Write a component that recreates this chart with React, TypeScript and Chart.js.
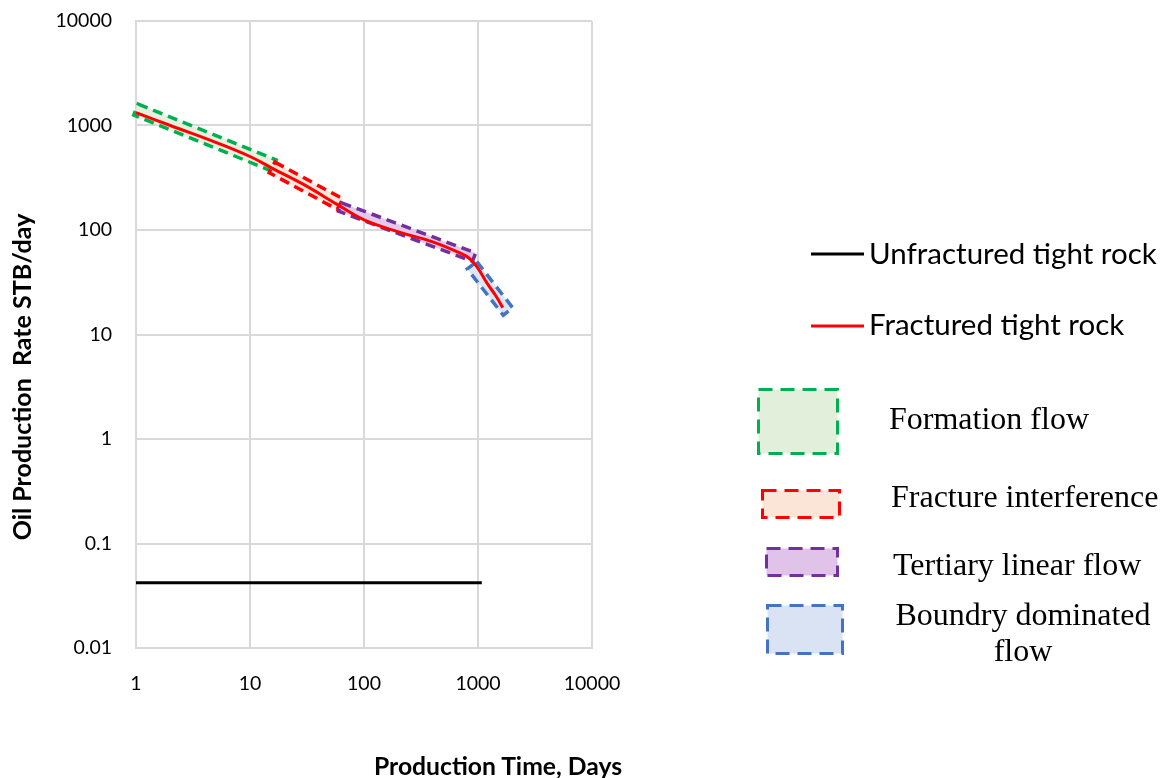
import React, { useEffect, useRef } from "react";
import { Chart, registerables } from "chart.js";

Chart.register(...registerables);

// ---------- data ----------
const fracturedDays = [1, 2, 5, 10, 16, 30, 60, 100, 200, 400, 700, 850, 1000, 1200, 1450, 1650];
const fracturedRate = [1330, 1000, 690, 505, 385, 270, 172, 125, 96, 77, 60, 53, 43, 31, 23, 18];

const unfracturedDays = [1, 1080];
const unfracturedRate = [0.042, 0.042];

const regimeNames = ["Formation flow", "Fracture interference", "Tertiary linear flow", "Boundry dominated flow"];
const regimeStartDay = [1, 15.6, 61.6, 886];
const regimeEndDay = [16.2, 61.6, 923, 1833];
const regimeStartRate = [1420, 397, 166, 46];
const regimeEndRate = [415, 177, 55, 16.6];

const xTickValues = [1, 10, 100, 1000, 10000];
const xTickLabels = ["1", "10", "100", "1000", "10000"];
const yTickValues = [0.01, 0.1, 1, 10, 100, 1000, 10000];
const yTickLabels = ["0.01", "0.1", "1", "10", "100", "1000", "10000"];

// ---------- styles ----------
const regimeStroke = ["#00b050", "#ff0000", "#7030a0", "#4472c4"];
const regimeFill = ["rgba(226,239,218,0.9)", "rgba(251,229,214,0.9)", "rgba(225,195,233,0.9)", "rgba(218,227,243,0.9)"];
const regimeBandWidth = [12, 12, 9, 12];
const sansFont = "Lato, 'Open Sans', sans-serif";
const serifFont = "'Liberation Serif', 'DejaVu Serif', serif";

const regimeBandsPlugin = {
  id: "regimeBands",
  beforeDatasetsDraw(chart: any) {
    const { ctx } = chart;
    const xs = chart.scales.x;
    const ys = chart.scales.y;
    regimeNames.forEach((_, i) => {
      const x1 = xs.getPixelForValue(regimeStartDay[i]);
      const y1 = ys.getPixelForValue(regimeStartRate[i]);
      const x2 = xs.getPixelForValue(regimeEndDay[i]);
      const y2 = ys.getPixelForValue(regimeEndRate[i]);
      const len = Math.hypot(x2 - x1, y2 - y1);
      const ang = Math.atan2(y2 - y1, x2 - x1);
      const w = regimeBandWidth[i];
      ctx.save();
      ctx.translate(x1, y1);
      ctx.rotate(ang);
      ctx.beginPath();
      ctx.rect(0, -w / 2, len, w);
      ctx.fillStyle = regimeFill[i];
      ctx.fill();
      ctx.setLineDash([10, 6]);
      ctx.lineWidth = 3.5;
      ctx.strokeStyle = regimeStroke[i];
      ctx.stroke();
      ctx.restore();
    });
  },
};

export default function App() {
  const canvasRef = useRef<HTMLCanvasElement | null>(null);

  useEffect(() => {
    if (!canvasRef.current) return;
    const chart = new Chart(canvasRef.current, {
      type: "scatter",
      data: {
        datasets: [
          {
            label: "Unfractured tight rock",
            data: unfracturedDays.map((x, i) => ({ x, y: unfracturedRate[i] })),
            showLine: true,
            borderColor: "#000000",
            borderWidth: 3,
            pointRadius: 0,
          },
          {
            label: "Fractured tight rock",
            data: fracturedDays.map((x, i) => ({ x, y: fracturedRate[i] })),
            showLine: true,
            borderColor: "#ff0000",
            borderWidth: 3,
            pointRadius: 0,
            tension: 0.4,
          },
        ],
      },
      options: {
        animation: false,
        responsive: false,
        maintainAspectRatio: false,
        layout: { padding: { left: 0, top: 21, right: 581, bottom: 0 } },
        plugins: { legend: { display: false }, tooltip: { enabled: false } },
        scales: {
          x: {
            type: "logarithmic",
            min: 1,
            max: 10000,
            afterBuildTicks: (s: any) => {
              s.ticks = xTickValues.map((v) => ({ value: v }));
            },
            afterFit: (s: any) => {
              s.height = 130;
              s.paddingLeft = 0;
              s.paddingRight = 0;
              s.paddingTop = 0;
              s.paddingBottom = 0;
            },
            ticks: {
              autoSkip: false,
              maxRotation: 0,
              padding: 24,
              color: "#000",
              font: { family: sansFont, size: 19.5 },
              callback: (v: any) => xTickLabels[xTickValues.indexOf(Number(v))] ?? "",
            },
            grid: { color: "#d9d9d9", lineWidth: 2, drawTicks: false },
            border: { color: "#d9d9d9", width: 2 },
          },
          y: {
            type: "logarithmic",
            min: 0.01,
            max: 10000,
            afterBuildTicks: (s: any) => {
              s.ticks = yTickValues.map((v) => ({ value: v }));
            },
            afterFit: (s: any) => {
              s.width = 136;
              s.paddingLeft = 0;
              s.paddingRight = 0;
              s.paddingTop = 0;
              s.paddingBottom = 0;
            },
            ticks: {
              autoSkip: false,
              padding: 24,
              color: "#000",
              font: { family: sansFont, size: 19.5 },
              callback: (v: any) => {
                const idx = yTickValues.findIndex((t) => Math.abs(t - Number(v)) / t < 1e-6);
                return idx >= 0 ? yTickLabels[idx] : "";
              },
            },
            grid: { color: "#d9d9d9", lineWidth: 2, drawTicks: false },
            border: { color: "#d9d9d9", width: 2 },
          },
        },
      },
      plugins: [regimeBandsPlugin],
    } as any);
    return () => chart.destroy();
  }, []);

  return (
    <div style={{ position: "fixed", left: 0, top: 0, width: 1173, height: 778, background: "#fff" }}>
      <canvas ref={canvasRef} width={1173} height={778} style={{ position: "absolute", left: 0, top: 0, width: 1173, height: 778 }} />
      <svg width={1173} height={778} style={{ position: "absolute", left: 0, top: 0, pointerEvents: "none" }}>
        {/* axis titles */}
        <text x={498} y={775} textAnchor="middle" fontFamily={sansFont} fontWeight="bold" fontSize={24.7} fill="#000">
          Production Time, Days
        </text>
        <text transform="translate(31,377) rotate(-90)" textAnchor="middle" fontFamily={sansFont} fontWeight="bold" fontSize={25} fill="#000" style={{ whiteSpace: "pre" }}>
          {"Oil Production  Rate STB/day"}
        </text>

        {/* legend: lines */}
        <line x1={811} x2={864} y1={254} y2={254} stroke="#000" strokeWidth={3} />
        <text x={869} y={264} fontFamily={sansFont} fontSize={29.5} fill="#000">Unfractured tight rock</text>
        <line x1={811} x2={864} y1={326} y2={326} stroke="#ff0000" strokeWidth={3} />
        <text x={869} y={335} fontFamily={sansFont} fontSize={29.5} fill="#000">Fractured tight rock</text>

        {/* legend: flow regimes */}
        <rect x={758.5} y={389.5} width={79} height={64} fill="#e2efda" stroke={regimeStroke[0]} strokeWidth={3} strokeDasharray="14 8" />
        <text x={889} y={429} fontFamily={serifFont} fontSize={32} fill="#000">{regimeNames[0]}</text>

        <rect x={762.5} y={490.5} width={77} height={27} fill="#fbe5d6" stroke={regimeStroke[1]} strokeWidth={3} strokeDasharray="14 8" />
        <text x={891} y={507} fontFamily={serifFont} fontSize={32} fill="#000">{regimeNames[1]}</text>

        <rect x={766.5} y={548.5} width={71} height={27} fill="#e1c3e9" stroke={regimeStroke[2]} strokeWidth={3} strokeDasharray="14 8" />
        <text x={893} y={575} fontFamily={serifFont} fontSize={32} fill="#000">{regimeNames[2]}</text>

        <rect x={767.5} y={605.5} width={75} height={48} fill="#dae3f3" stroke={regimeStroke[3]} strokeWidth={3} strokeDasharray="14 8" />
        <text x={1023} y={625} textAnchor="middle" fontFamily={serifFont} fontSize={32} fill="#000">Boundry dominated</text>
        <text x={1023} y={661} textAnchor="middle" fontFamily={serifFont} fontSize={32} fill="#000">flow</text>
      </svg>
    </div>
  );
}
